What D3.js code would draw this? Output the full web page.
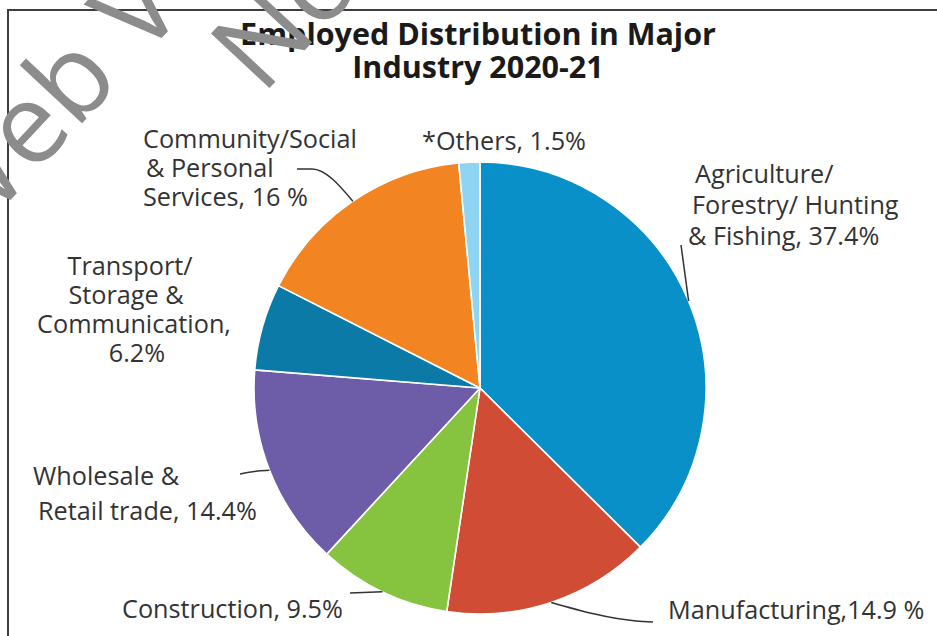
<!DOCTYPE html>
<html>
<head>
<meta charset="utf-8">
<script src="https://cdn.jsdelivr.net/npm/d3@7"></script>
<style>
  html, body { margin: 0; padding: 0; background: #fff; }
  svg { display: block; }
</style>
</head>
<body>
<svg id="chart" width="937" height="636"></svg>
<script>
// Employment share by major industry, 2020-21 (per cent)
const industries = [
  "Agriculture/ Forestry/ Hunting & Fishing",
  "Manufacturing",
  "Construction",
  "Wholesale & Retail trade",
  "Transport/ Storage & Communication",
  "Community/Social & Personal Services",
  "*Others"
];
const shares = [37.4, 14.9, 9.5, 14.4, 6.2, 16, 1.5];
const shareText = ["37.4%", "14.9 %", "9.5%", "14.4%", "6.2%", "16 %", "1.5%"];
const sliceColors = ["#0a90c9", "#d14c34", "#86c440", "#6d5ca8", "#0b7aa6", "#f28522", "#8fd5f3"];
const titleLines = ["Employed Distribution in Major", "Industry 2020-21"];

const W = 937, H = 636;
const cx = 480, cy = 388, R = 226;

const svg = d3.select("#chart");

// frame
svg.append("path")
  .attr("d", `M8,${H} V10 H${W}`)
  .attr("fill", "none")
  .attr("stroke", "#3d3d3d")
  .attr("stroke-width", 2);

// pie
const pie = d3.pie().sort(null).value(d => d.v);
const arcs = pie(shares.map((v, i) => ({ v, i })));
const arc = d3.arc().innerRadius(0).outerRadius(R);

const g = svg.append("g").attr("transform", `translate(${cx},${cy})`);
g.selectAll("path.slice")
  .data(arcs)
  .join("path")
  .attr("class", "slice")
  .attr("d", arc)
  .attr("fill", d => sliceColors[d.data.i])
  .attr("stroke", "#fff")
  .attr("stroke-width", 1.6)
  .attr("stroke-linejoin", "round");

// label text blocks: lines, anchor, position of first baseline, line step
const labelFont = "'Open Sans', 'Noto Sans', sans-serif";
const labels = [
  { i: 0, lines: ["Agriculture/", "Forestry/ Hunting", "& Fishing, " + shareText[0]], dx: [695, 692, 688], y: 183, step: 31, anchor: "start",
    leader: [[681, 245]] },
  { i: 1, lines: ["Manufacturing," + shareText[1]], dx: [668], y: 619, step: 0, anchor: "start",
    leader: [[636, 621], [653, 622]] },
  { i: 2, lines: ["Construction, " + shareText[2]], dx: [122], y: 618, step: 0, anchor: "start",
    leader: [[350, 593]] },
  { i: 3, lines: ["Wholesale &", "Retail trade, " + shareText[3]], dx: [33, 38], y: 485, step: 35, anchor: "start",
    leader: [[258, 471], [240, 474]] },
  { i: 4, lines: ["Transport/", "Storage &", "Communication,", shareText[4]], dx: [130, 126, 134, 137], y: 275, step: 29, anchor: "middle",
    leader: null },
  { i: 5, lines: ["Community/Social", "& Personal", "Services, " + shareText[5]], dx: [143, 146, 143], y: 148, step: 29, anchor: "start",
    leader: [[312, 169], [297, 169]] },
  { i: 6, lines: ["*Others, " + shareText[6]], dx: [422], y: 150, step: 0, anchor: "start",
    leader: null }
];

// leader lines start on the rim at each slice's mid-angle
labels.forEach(L => {
  if (!L.leader) return;
  const a = arcs[L.i];
  const mid = (a.startAngle + a.endAngle) / 2;
  const start = [cx + R * Math.sin(mid), cy - R * Math.cos(mid)];
  svg.append("path")
    .attr("d", d3.line().curve(d3.curveMonotoneX)([start, ...L.leader]))
    .attr("fill", "none")
    .attr("stroke", "#333")
    .attr("stroke-width", 1.5);
});

const labelG = svg.append("g")
  .attr("font-family", labelFont)
  .attr("fill", "#333");

labels.forEach(L => {
  L.lines.forEach((t, k) => {
    labelG.append("text")
      .attr("x", L.dx[k])
      .attr("y", L.y + k * L.step)
      .attr("text-anchor", L.anchor)
      .text(t);
  });
});

// size label font so "Community/Social" spans 214px
(function fitLabels() {
  const probe = labelG.append("text").attr("font-size", 20).text("Community/Social");
  const w = probe.node().getComputedTextLength();
  probe.remove();
  labelG.attr("font-size", 20 * 214 / w);
})();

// title
const titleG = svg.append("g")
  .attr("font-family", "'Open Sans', 'Noto Sans', sans-serif")
  .attr("font-weight", 700)
  .attr("fill", "#1a1a1a")
  .attr("text-anchor", "middle");
titleLines.forEach((t, k) => {
  titleG.append("text").attr("x", 478).attr("y", 45 + k * 33).text(t);
});
(function fitTitle() {
  const probe = titleG.append("text").attr("font-size", 20).text(titleLines[0]);
  const w = probe.node().getComputedTextLength();
  probe.remove();
  titleG.attr("font-size", 20 * 476 / w);
})();

// watermark
const wm = svg.append("g")
  .attr("font-family", "'Open Sans', sans-serif")
  .attr("font-size", 112)
  .attr("fill", "#8c8c8c");
wm.append("text")
  .attr("transform", "translate(-38,252) rotate(-47)")
  .text("Web Version");
wm.append("text")
  .attr("transform", "translate(262,96) rotate(-47)")
  .text("Not for Sale");
</script>
</body>
</html>
